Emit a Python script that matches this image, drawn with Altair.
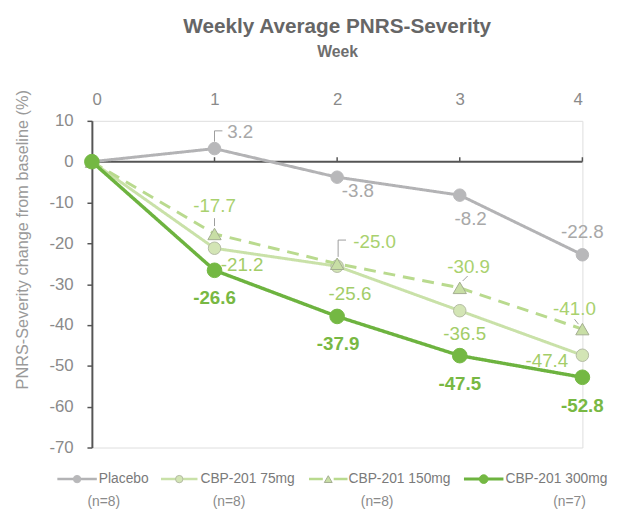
import altair as alt
import pandas as pd

# ---------------- data ----------------
weeks = [0, 1, 2, 3, 4]
series_names = ["Placebo", "CBP-201 75mg", "CBP-201 150mg", "CBP-201 300mg"]
placebo = [0, 3.2, -3.8, -8.2, -22.8]
cbp75 = [0, -21.2, -25.6, -36.5, -47.4]
cbp150 = [0, -17.7, -25.0, -30.9, -41.0]
cbp300 = [0, -26.6, -37.9, -47.5, -52.8]
n_labels = ["(n=8)", "(n=8)", "(n=8)", "(n=7)"]
x_ticks = [0, 1, 2, 3, 4]
y_ticks = [10, 0, -10, -20, -30, -40, -50, -60, -70]

title_text = "Weekly Average PNRS-Severity"
x_title = "Week"
y_title = "PNRS-Severity change from baseline (%)"

# ---------------- styles ----------------
FONT = "Liberation Sans, Arial, sans-serif"
W, H = 497, 331
X_DOM, Y_DOM = [0, 4], [-70, 10]
PX_X = W / (X_DOM[1] - X_DOM[0])
PX_Y = H / (Y_DOM[1] - Y_DOM[0])

styles = {
    "Placebo": dict(color="#b3b3b5", width=3, dash=[1, 0], shape="circle", fill="#b8b8ba",
                    stroke="#b8b8ba", size=160, lab="#a8a8a8", weight="normal",
                    off=[(26, -17), (21, 14), (11, 24), (0, -23)]),
    "CBP-201 75mg": dict(color="#c9e1a8", width=3, dash=[1, 0], shape="circle", fill="#d3e5b5",
                         stroke="#b3bba3", size=160, lab="#a3cd68", weight="normal",
                         off=[(28, 17), (13, 28), (5, 24), (-36, 6)]),
    "CBP-201 150mg": dict(color="#b9da8e", width=3, dash=[12, 8], shape="triangle-up", fill="#c8dea5",
                          stroke="#a3ad90", size=180, lab="#a9d16e", weight="normal",
                          off=[(0, -28), (38, -22), (9, -21), (-8, -20)]),
    "CBP-201 300mg": dict(color="#6db33f", width=3.5, dash=[1, 0], shape="circle", fill="#74b843",
                          stroke="#74b843", size=220, lab="#78b843", weight="bold",
                          off=[(0, 28), (1, 28), (0, 29), (0, 29)]),
}
values = {"Placebo": placebo, "CBP-201 75mg": cbp75, "CBP-201 150mg": cbp150, "CBP-201 300mg": cbp300}

# leader lines: (series, point index, pixel path relative to the point; +y is downward)
leaders = [
    ("Placebo", 1, [(0, -7), (0, -18), (8, -18)]),
    ("CBP-201 150mg", 1, [(0, -8), (0, -16)]),
    ("CBP-201 150mg", 2, [(1, -7), (1, -24), (9, -24)]),
    ("CBP-201 150mg", 3, [(8, -12), (3, -7)]),
    ("CBP-201 150mg", 4, [(-8, -10), (-4, -5)]),
]

# legend layout (pixels relative to plot origin)
leg_y, n_y = 363, 386
leg_line = [(-35, 5), (70, 107), (220, 259), (377, 417)]
leg_text_x = [7, 110, 260, 419]
leg_n_x = [12, 139, 289, 484]

xs = alt.Scale(domain=X_DOM, nice=False, zero=False)
ys = alt.Scale(domain=Y_DOM, nice=False, zero=False)
xaxis = alt.Axis(orient="top", values=x_ticks, domain=False, ticks=False, grid=False,
                 labelPadding=13, labelFont=FONT, labelFontSize=17, labelColor="#8a8a8a",
                 title=x_title, titleFont=FONT, titleFontSize=16, titleFontWeight="bold",
                 titleColor="#6e6e6e", titleY=-65, titleBaseline="alphabetic",
                 labelExpr="datum.value + ''")
yaxis = alt.Axis(orient="left", values=y_ticks, grid=False, domainColor="#555555", domainWidth=2,
                 tickColor="#555555", tickWidth=1.5, tickSize=5, labelPadding=14,
                 labelFont=FONT, labelFontSize=17, labelColor="#8a8a8a",
                 labelExpr="datum.value + ''",
                 title=y_title, titleFont=FONT, titleFontSize=16.5, titleFontWeight="normal",
                 titleColor="#9a9a9a", titleAngle=-90, titleX=-70, titleY=120,
                 titleBaseline="middle", titleAlign="center")


def X(field="week"):
    return alt.X(f"{field}:Q", scale=xs, axis=xaxis)


def Y(field="value"):
    return alt.Y(f"{field}:Q", scale=ys, axis=yaxis)


layers = []
# zero line
zero_df = pd.DataFrame({"week": [weeks[0]], "week2": [weeks[-1]], "value": [0]})
layers.append(alt.Chart(zero_df).mark_rule(color="#555555", strokeWidth=2).encode(
    x=X(), x2="week2:Q", y=Y()))
# small ticks on zero line
tick_df = pd.DataFrame({"week": weeks[1:], "value": [0] * 4})
layers.append(alt.Chart(tick_df).mark_rule(color="#555555", strokeWidth=1.5).encode(
    x=X(), y=Y(), y2=alt.value(H * Y_DOM[1] / (Y_DOM[1] - Y_DOM[0]) - 4.5)))

# leader lines
for j, (name, idx, path) in enumerate(leaders):
    w0, v0 = weeks[idx], values[name][idx]
    dfp = pd.DataFrame({
        "week": [w0 + px / PX_X for px, _ in path],
        "value": [v0 - py / PX_Y for _, py in path],
        "order": list(range(len(path))),
    })
    layers.append(alt.Chart(dfp).mark_line(color="#9c9c9c", strokeWidth=1).encode(
        x=X(), y=Y(), order="order:Q"))

for name in series_names:
    st = styles[name]
    df = pd.DataFrame({"week": weeks, "value": values[name]})
    layers.append(alt.Chart(df).mark_line(color=st["color"], strokeWidth=st["width"],
                                          strokeDash=st["dash"]).encode(x=X(), y=Y()))
    layers.append(alt.Chart(df).mark_point(shape=st["shape"], filled=True, fill=st["fill"],
                                           stroke=st["stroke"], strokeWidth=1, size=st["size"],
                                           opacity=1).encode(x=X(), y=Y()))

for name in series_names:
    st = styles[name]
    for i, w in enumerate(weeks[1:]):
        v = values[name][i + 1]
        dfl = pd.DataFrame({"week": [w], "value": [v], "label": [f"{v:.1f}"]})
        dx, dy = st["off"][i]
        layers.append(alt.Chart(dfl).mark_text(font=FONT, fontSize=19, fontWeight=st["weight"],
                                               color=st["lab"], dx=dx, dy=dy, align="center",
                                               baseline="middle").encode(
            x=X(), y=Y(), text="label:N"))

# legend
one = pd.DataFrame({"a": [0]})
for k, name in enumerate(series_names):
    st = styles[name]
    x0, x1 = leg_line[k]
    ldash = [14, 11] if name == "CBP-201 150mg" else [1, 0]
    layers.append(alt.Chart(one).mark_rule(color=st["color"], strokeWidth=st["width"] - 0.5,
                                           strokeDash=ldash).encode(
        x=alt.value(x0), x2=alt.value(x1), y=alt.value(leg_y)))
    layers.append(alt.Chart(one).mark_point(shape=st["shape"], filled=True, fill=st["fill"],
                                            stroke=st["stroke"], strokeWidth=1,
                                            size=st["size"] * 0.35, opacity=1).encode(
        x=alt.value((x0 + x1) / 2), y=alt.value(leg_y)))
    layers.append(alt.Chart(one).mark_text(text=name, font=FONT, fontSize=14, color="#7a7a7a",
                                           align="left", baseline="middle").encode(
        x=alt.value(leg_text_x[k]), y=alt.value(leg_y)))
    layers.append(alt.Chart(one).mark_text(text=n_labels[k], font=FONT, fontSize=14,
                                           color="#8a8a8a", align="center",
                                           baseline="middle").encode(
        x=alt.value(leg_n_x[k]), y=alt.value(n_y)))

chart = alt.layer(*layers).properties(
    width=W, height=H,
    title=alt.TitleParams(title_text, font=FONT, fontSize=21, fontWeight="bold", color="#666666",
                          anchor="middle", offset=7),
    autosize=alt.AutoSizeParams(type="none"),
    padding={"left": 85, "top": 111, "right": 30, "bottom": 62},
).configure_view(stroke=None).configure(background="white")

chart.save("out.html", embed_options={"renderer": "svg", "actions": False})
